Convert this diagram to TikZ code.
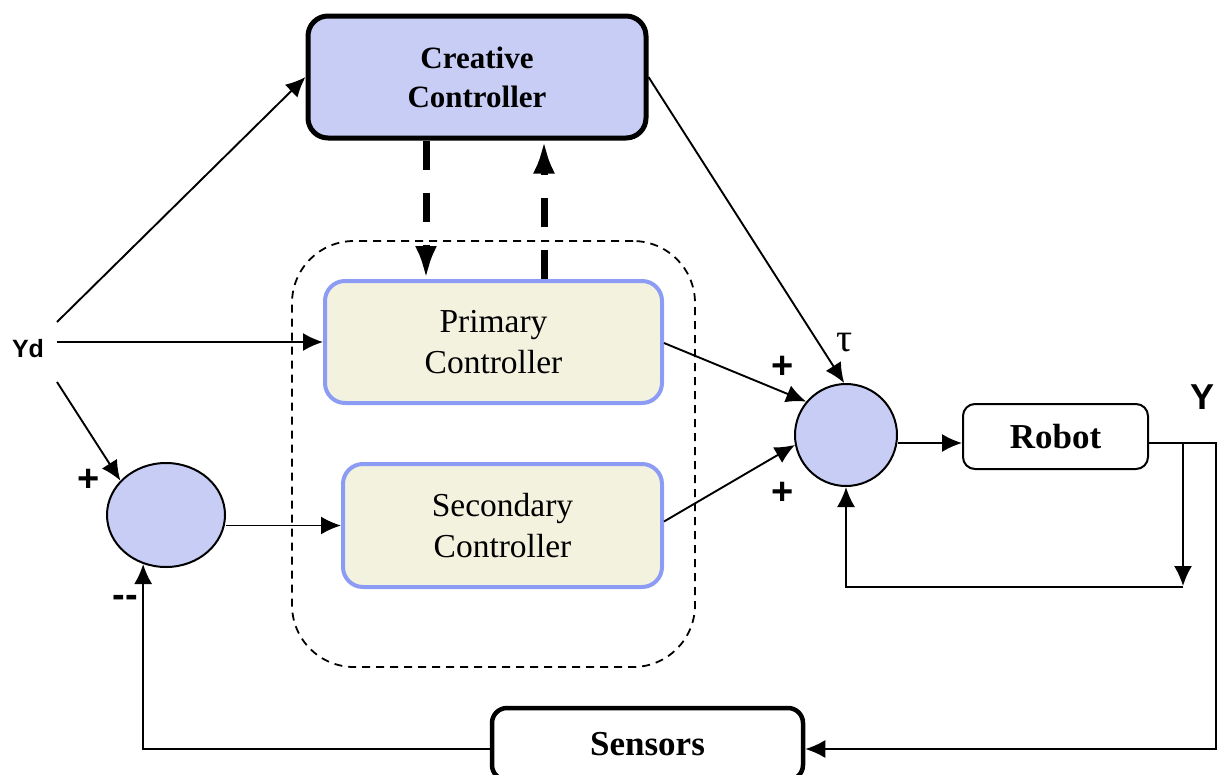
\documentclass[tikz,border=0pt]{standalone}
\usepackage{fontspec}
\usetikzlibrary{arrows.meta,calc,shapes.geometric}
\setmainfont{Liberation Serif}
\newfontfamily\arialf{Liberation Sans}
\definecolor{hatch}{RGB}{200,205,246}
\definecolor{ctrlfill}{RGB}{242,242,222}
\definecolor{ctrlborder}{RGB}{140,156,245}
\begin{document}
\begin{tikzpicture}[x=1pt,y=-1pt,
  arr/.style={line width=1.9pt,-{Latex[length=20pt,width=18pt]}},
  dasharr/.style={line width=7pt,dash pattern=on 29pt off 23pt,-{Latex[length=33pt,width=22pt]}},
  creativebox/.style={draw,line width=5pt,rounded corners=20pt,fill=hatch,minimum width=338pt,minimum height=122pt,align=center,font=\fontsize{31}{39}\selectfont\bfseries},
  ctrlbox/.style={draw=ctrlborder,line width=4pt,rounded corners=20pt,fill=ctrlfill,align=center,font=\fontsize{33.5}{41}\selectfont},
  sumnode/.style={draw,line width=2pt,fill=hatch,inner sep=0pt},
  robotbox/.style={draw,line width=2pt,rounded corners=12pt,minimum width=185pt,minimum height=65pt,font=\fontsize{35}{40}\selectfont\bfseries},
  sensorbox/.style={draw,line width=4.5pt,rounded corners=15pt,minimum width=311pt,minimum height=72pt,font=\fontsize{35}{40}\selectfont\bfseries},
  regionbox/.style={draw,line width=1.8pt,dash pattern=on 8pt off 6pt,rounded corners=62pt,minimum width=403pt,minimum height=426pt},
  pm/.style={font=\arialf\bfseries\fontsize{38}{38}\selectfont,inner sep=0pt},
  sanslab/.style={font=\arialf\bfseries\fontsize{25}{25}\selectfont,inner sep=0pt}
]
\useasboundingbox (0,0) rectangle (1221,774);
\clip (0,0) rectangle (1221,774);

% region
\node[regionbox] (region) at (493.5,454) {};

% blocks
\node[creativebox] (creative) at (477,77) {Creative\\Controller};
\node[ctrlbox,minimum width=337pt,minimum height=122pt] (primary) at (493.5,342) {Primary\\Controller};
\node[ctrlbox,minimum width=319pt,minimum height=123pt] (secondary) at (502.5,525.5) {Secondary\\Controller};
\node[sumnode,ellipse,minimum width=118pt,minimum height=104pt] (sumL) at (166,515) {};
\node[sumnode,circle,minimum size=102pt] (sumR) at (846,435) {};
\node[robotbox] (robot) at (1055.5,436.5) {Robot};
\node[sensorbox] (sensors) at (647.5,744) {Sensors};

% labels
\node[sanslab] (yd) at (28,349) {Yd};
\node[font=\arialf\bfseries\fontsize{36}{36}\selectfont,inner sep=0pt] (ylab) at (1202,397) {Y};
\node[pm] (p1) at (783,367) {+};
\node[pm] (p2) at (783,493) {+};
\node[pm] (p3) at (89,480) {+};
\node[pm] (m1) at (125,601) {{-}{-}};
\node[font=\fontsize{40}{40}\selectfont,inner sep=0pt] (tau) at (845,343) {τ};

% coordinates
\coordinate (yd1) at (57,322);
\coordinate (yd2) at (57,342);
\coordinate (yd3) at (57,382);
\coordinate (dx) at (426,0);
\coordinate (ux) at (544,0);
\coordinate (out) at ($(robot.east)+(0,6.5)$);
\coordinate (yR) at (1216,443);
\coordinate (tap) at (1183,443);
\coordinate (tapd) at (1183,587);
\coordinate (fb) at (0,749);

% connectors
\draw[arr] (yd1) -- (creative.west);
\draw[arr] (yd2) -- (primary.west);
\draw[arr] (yd3) -- (sumL.143);
\draw[arr] (sumL.east |- secondary.west) -- (secondary.west);
\draw[arr] ($(primary.east)+(0,1)$) -- (sumR.140);
\draw[arr] ($(secondary.east)+(0,-4)$) -- (sumR.191);
\draw[arr] (creative.east) -- (sumR.92);
\draw[arr] (sumR.east |- out) -- (robot.west |- out);
\draw[arr] (out) -- (yR) |- (sensors.east |- fb);
\draw[arr] (tap) -- ($(tapd)+(0,-1)$);
\draw[arr] (tapd) -| (sumR.south);
\draw[arr] (sensors.west |- fb) -| (sumL.245);

% dashed thick arrows
\draw[dasharr] (creative.south -| dx) -- (primary.north -| dx);
\draw[dasharr] (primary.north -| ux) -- (creative.south -| ux);
\end{tikzpicture}
\end{document}
